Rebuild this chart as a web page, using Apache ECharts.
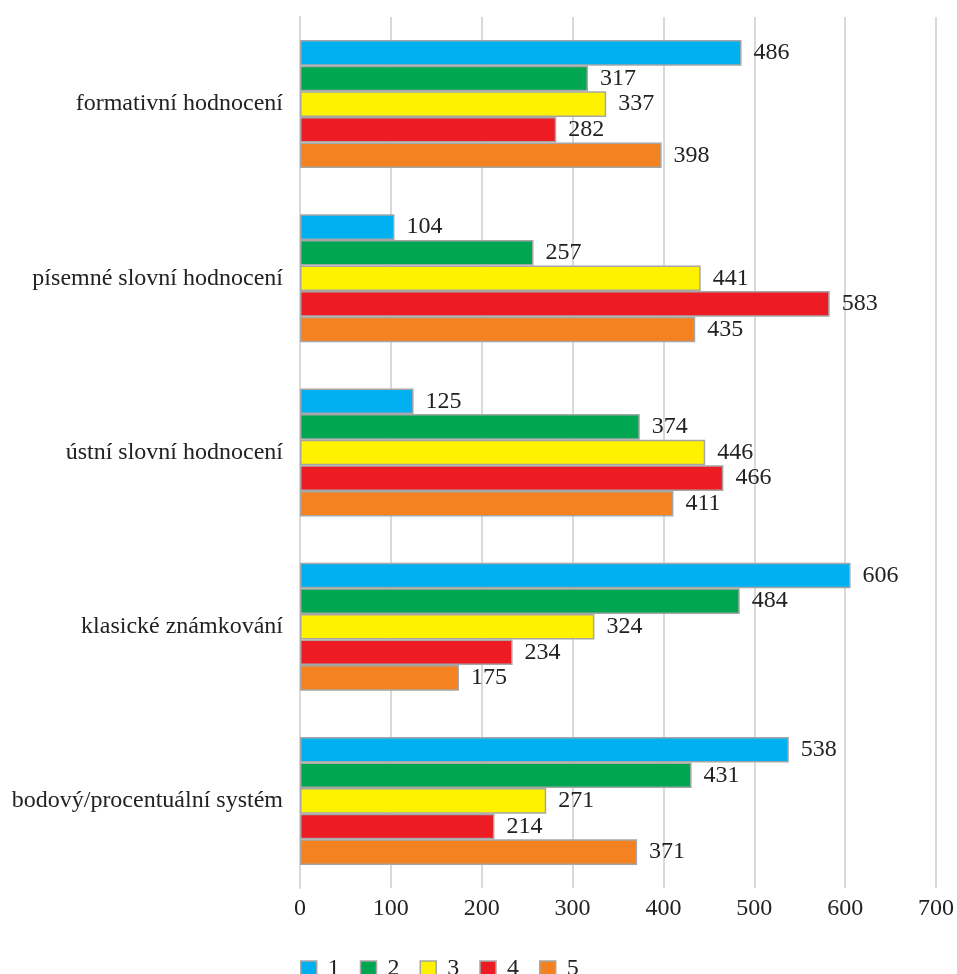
<!DOCTYPE html>
<html><head><meta charset="utf-8">
<script src="https://cdn.jsdelivr.net/npm/echarts@6/dist/echarts.min.js"></script>
<style>html,body{margin:0;padding:0;background:#fff}#c{width:957px;height:974px}</style>
</head><body><div id="c"></div>
<script>
const categories = ["formativní hodnocení","písemné slovní hodnocení","ústní slovní hodnocení","klasické známkování","bodový/procentuální systém"];
const seriesNames = ["1","2","3","4","5"];
const s1 = [486,104,125,606,538];
const s2 = [317,257,374,484,431];
const s3 = [337,441,446,324,271];
const s4 = [282,583,466,234,214];
const s5 = [398,435,411,175,371];
const xTicks = [0,100,200,300,400,500,600,700];
const colors = ["#00b0f0","#00a650","#fff200","#ed1c24","#f58220"];
const values = [s1,s2,s3,s4,s5];
const font = "'Liberation Serif','Times New Roman',serif";
const chart = echarts.init(document.getElementById('c'));
chart.setOption({
  animation:false,
  textStyle:{fontFamily:font},
  grid:{left:300,right:20,top:17,bottom:86,containLabel:false},
  legend:{left:295,top:952,icon:'rect',itemWidth:16,itemHeight:16,itemGap:20,
    textStyle:{fontFamily:font,fontSize:24,color:'#222',padding:[0,0,0,6]},
    data:seriesNames.map((n,i)=>({name:n,itemStyle:{color:colors[i],borderColor:'#a6a6a6',borderWidth:1.5}}))},
  xAxis:{type:'value',min:xTicks[0],max:xTicks[xTicks.length-1],interval:100,
    axisLine:{show:false},axisTick:{show:false},
    axisLabel:{fontFamily:font,fontSize:24,color:'#222',margin:9},
    splitLine:{lineStyle:{color:'#d9d9d9',width:2}}},
  yAxis:{type:'category',inverse:true,data:categories,
    axisLine:{show:true,lineStyle:{color:'#d9d9d9',width:2}},axisTick:{show:false},
    axisLabel:{fontFamily:font,fontSize:24,color:'#222',margin:17}},
  series:values.map((v,i)=>({
    name:seriesNames[i],type:'bar',data:v,
    barCategoryGap:'26.5%',barGap:'0%',
    itemStyle:{color:colors[i],borderColor:'#a6a6a6',borderWidth:1.5},
    label:{show:true,position:'right',distance:12,fontFamily:font,fontSize:24,color:'#222'}
  }))
});
</script></body></html>
